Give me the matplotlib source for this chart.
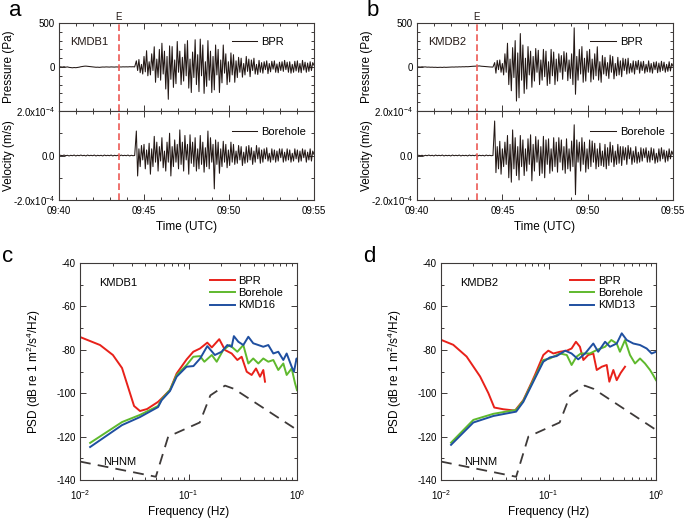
import numpy as np
import matplotlib
matplotlib.use("Agg")
import matplotlib.pyplot as plt
from matplotlib.ticker import MultipleLocator, LogLocator, NullFormatter

plt.rcParams['font.family'] = ['Liberation Sans', 'DejaVu Sans']
plt.rcParams['mathtext.fontset'] = 'custom'
plt.rcParams['mathtext.rm'] = 'Liberation Sans'
plt.rcParams['mathtext.it'] = 'Liberation Sans:italic'
plt.rcParams['mathtext.bf'] = 'Liberation Sans:bold'
plt.rcParams['axes.unicode_minus'] = False

# ---------------- waveform data (minutes after 09:40) ----------------
# quiet part before the arrival, then the shaking (peaks)
a_onset = 4.55
b_onset = 4.55

a_bpr_quiet = [0, 2, -1, 3, -2, 1, -4, -7, -9, -6, -8, -5, -2, 3, 6, 9, 10, 8, 6, 3, 1, -1, -3,
               -2, -4, -2, 0, -1, 1, 0, -1, 1, 0, -1, 1, 0, 1, 0, 2, 1, 2, 1, 3, 2, 3, 1]
a_bpr_active = [70, -40, 85, -65, 30, -80, 120, -55, 185, -100,
                60, -90, 150, -40, 230, -174, 90, -120, 200, -150,
                270, -80, 180, -250, 120, -367, 240, -140, 232, -232,
                80, -190, 290, -60, 180, -200, 110, -160, 260, -100,
                300, -240, 90, -290, 170, -120, 310, -200, 140, -280,
                317, -100, 250, -300, 60, -220, 300, -150, 180, -290,
                120, -260, 250, -90, 200, -290, 80, -180, 250, -70,
                150, -200, 60, -170, 160, -90, 140, -174, 70, -120,
                110, -60, 100, -116, 40, -90, 120, -50, 90, -110,
                80, -40, 100, -80, 30, -85, 75, -60, 50, -70,
                60, -30, 70, -75, 40, -55, 65, -25, 70, -60,
                35, -65, 55, -40, 60, -50, 75, -30, 55, -60,
                60, -70, 30, -60, 65, -45, 70, -60, 40, -65,
                75, -35, 55, -60, 45, -50, 60, -40, 50, 20]

# velocity in units of 1e-4 m/s
a_bh_quiet = [0, 0.01, -0.01, 0.02, -0.01, 0.01, -0.02, 0.01, -0.01, 0.02, -0.02, 0.01, -0.01,
              0.02, -0.01, 0.01, -0.02, 0.02, -0.01, 0.01, -0.01, 0.02, -0.02, 0.01, -0.01, 0.01,
              -0.02, 0.02, -0.01, 0.01, -0.01, 0.02, -0.02, 0.01, -0.01, 0.01, -0.02, 0.02, -0.01,
              0.01, -0.01, 0.02, -0.02, 0.01, -0.01, 0.0]
a_bh_active = [1.1, -0.92, 0.3, -0.5, 0.45, -0.2, 0.5, -0.6, 0.25, -0.4,
               0.55, -0.84, 0.3, -0.5, 0.86, -0.3, 0.6, -0.7, 0.4, -0.25,
               0.8, -0.55, 0.2, -0.7, 0.6, -0.3, 1.0, -0.92, 0.4, -0.5,
               0.7, -0.3, 0.5, -0.6, 1.15, -0.4, 0.6, -0.7, 0.9, -0.2,
               0.5, -0.84, 0.93, -0.35, 0.6, -0.5, 0.8, -0.7, 0.3, -0.6,
               0.9, -0.4, 0.6, -0.75, 0.35, -0.5, 1.1, -0.6, 0.8, -0.3,
               0.5, -1.5, 0.7, -0.4, 0.6, -0.8, 0.3, -0.5, 0.64, -0.3,
               0.5, -0.55, 0.25, -0.45, 0.6, -0.3, 0.5, -0.4, 0.2, -0.35,
               0.45, -0.2, 0.4, -0.45, 0.15, -0.35, 0.4, -0.3, 0.45, -0.2,
               0.35, -0.4, 0.2, -0.3, 0.45, -0.15, 0.35, -0.35, 0.25, -0.3,
               0.3, -0.15, 0.35, -0.25, 0.1, -0.3, 0.3, -0.2, 0.25, -0.3,
               0.2, -0.25, 0.3, -0.1, 0.3, -0.3, 0.15, -0.25, 0.3, -0.2,
               0.25, -0.3, 0.1, -0.25, 0.3, -0.15, 0.25, -0.3, 0.2, -0.25,
               0.3, -0.1, 0.25, -0.3, 0.15, -0.2, 0.3, -0.25, 0.2, 0.05]

b_bpr_quiet = [0, 1, -1, 2, 0, 1, -2, -1, -3, -2, -4, -3, -5, -4, -3, -5, -2, -4, -3, -1, -2, 0, -1,
               1, 0, 2, 1, 3, 2, 4, 3, 5, 6, 8, 9, 11, 10, 12, 9, 8, 6, 4, 2, 1, 0, -1]
b_bpr_active = [50, -70, 75, -30, 80, -60, 40, -90, 150, -60,
                270, -200, 90, -270, 220, -120, 300, -387, 160, -350,
                380, -150, 250, -300, 100, -250, 232, -90, 180, -230,
                120, -160, 210, -60, 190, -200, 80, -150, 200, -110,
                180, -210, 60, -190, 200, -100, 170, -200, 90, -160,
                150, -60, 130, -140, 175, -50, 160, -155, 80, -130,
                150, -200, 445, -310, 120, -150, 200, -80, 232, -174,
                100, -160, 180, -60, 200, -170, 90, -140, 150, -100,
                230, -150, 60, -174, 130, -80, 110, -100, 50, -130,
                135, -60, 120, -135, 40, -100, 110, -90, 70, -110,
                100, -40, 90, -80, 100, -70, 40, -60, 70, -80,
                65, -30, 75, -70, 60, -40, 65, -70, 30, -55,
                70, -60, 40, -70, 55, -30, 60, -65, 45, -55,
                65, -40, 55, -60, 30, -50, 60, -45, 40, 10]

b_bh_quiet = [0, 0.01, -0.01, 0.01, -0.02, 0.01, -0.01, 0.02, -0.01, 0.01, -0.02, 0.02, -0.01,
              0.01, -0.01, 0.02, -0.02, 0.01, -0.01, 0.01, -0.02, 0.02, -0.01, 0.01, -0.01, 0.02,
              -0.02, 0.01, -0.01, 0.01, -0.02, 0.02, -0.01, 0.01, -0.01, 0.02, -0.02, 0.01, -0.01,
              0.01, -0.02, 0.02, -0.01, 0.01, -0.01, 0.0]
b_bh_active = [1.55, -0.77, 0.4, -0.6, 0.64, -0.84, 0.3, -0.5, 0.6, -0.4,
               0.9, -1.0, 0.5, -1.2, 1.15, -0.6, 0.8, -0.9, 0.4, -1.1,
               0.9, -0.5, 0.7, -0.9, 0.3, -0.7, 0.75, -0.4, 0.93, -1.14,
               0.5, -0.7, 0.85, -0.3, 0.7, -0.9, 0.4, -0.8, 0.86, -1.0,
               0.7, -0.4, 0.75, -0.8, 0.3, -0.7, 0.8, -0.5, 0.6, -0.75,
               0.8, -0.3, 0.7, -0.65, 0.4, -0.8, 0.75, -0.6, 0.3, -0.7,
               0.65, -0.5, 1.38, -1.76, 0.7, -0.3, 0.6, -0.7, 0.8, -0.4,
               0.6, -0.75, 0.3, -0.6, 0.7, -0.5, 0.65, -0.3, 0.55, -0.6,
               0.3, -0.5, 0.55, -0.45, 0.2, -0.5, 0.5, -0.6, 0.35, -0.45,
               0.6, -0.3, 0.45, -0.5, 0.2, -0.4, 0.5, -0.35, 0.4, -0.45,
               0.4, -0.2, 0.35, -0.4, 0.45, -0.15, 0.35, -0.4, 0.2, -0.3,
               0.4, -0.35, 0.15, -0.3, 0.35, -0.25, 0.3, -0.1, 0.35, -0.3,
               0.2, -0.3, 0.35, -0.2, 0.3, -0.35, 0.1, -0.3, 0.3, -0.25,
               0.35, -0.15, 0.25, -0.3, 0.2, -0.25, 0.3, -0.15, 0.2, 0.05]

event_time = 3.5  # E, minutes after 09:40
time_ticks = [0, 5, 10, 15]
time_labels = ["09:40", "09:45", "09:50", "09:55"]

# ---------------- PSD data ----------------
c_bpr_f = [0.0100, 0.0153, 0.0201, 0.0244, 0.0277, 0.0315, 0.0357, 0.0415, 0.0524, 0.0566, 0.0675,
           0.0778, 0.0962, 0.1107, 0.1277, 0.149, 0.164, 0.192, 0.217, 0.250, 0.282, 0.309, 0.344,
           0.382, 0.419, 0.456, 0.489, 0.507]
c_bpr_db = [-74.1, -77.8, -82.4, -88.4, -97.1, -105.9, -108.2, -107.3, -104.0, -102.4, -98.5,
            -90.9, -84.4, -80.9, -79.4, -76.7, -78.9, -75.1, -80.1, -81.7, -84.7, -83.2, -90.1,
            -91.6, -88.6, -92.4, -89.3, -94.7]
c_bh_f = [0.0124, 0.0244, 0.0357, 0.0524, 0.0566, 0.0675, 0.0778, 0.0962, 0.1107, 0.1277, 0.140,
          0.164, 0.182, 0.209, 0.240, 0.282, 0.320, 0.356, 0.395, 0.440, 0.489, 0.544, 0.605, 0.672,
          0.748, 0.803, 0.893, 0.96, 1.0]
c_bh_db = [-122.9, -113.3, -110.0, -105.9, -102.8, -98.5, -91.6, -87.0, -83.2, -82.9, -85.5,
           -82.4, -85.5, -80.1, -77.8, -80.9, -77.8, -86.3, -84.0, -86.3, -84.0, -85.5, -84.7, -89.3,
           -86.3, -91.6, -88.6, -95.5, -98.6]
c_st_f = [0.0124, 0.0244, 0.0357, 0.0524, 0.0566, 0.0675, 0.0778, 0.096, 0.111, 0.128, 0.149, 0.175,
          0.202, 0.228, 0.250, 0.262, 0.288, 0.320, 0.356, 0.395, 0.440, 0.489, 0.544, 0.605, 0.672,
          0.748, 0.803, 0.893, 0.938, 0.99, 1.0]
c_st_db = [-124.8, -114.7, -111.0, -106.4, -103.2, -99.0, -92.4, -87.8, -87.5, -84.0, -78.3, -82.4,
           -80.9, -77.8, -78.6, -73.7, -76.3, -77.8, -74.0, -77.0, -77.8, -78.6, -77.8, -81.7, -80.9,
           -84.7, -81.7, -87.8, -90.1, -84.0, -84.5]

d_bpr_f = [0.0100, 0.0130, 0.0173, 0.0231, 0.0276, 0.0313, 0.038, 0.0488, 0.0583, 0.0697, 0.0748,
           0.0895, 0.0996, 0.111, 0.128, 0.148, 0.164, 0.180, 0.196, 0.211, 0.234, 0.261, 0.281,
           0.313, 0.348, 0.368, 0.401, 0.431, 0.47, 0.515]
d_bpr_db = [-75.4, -77.7, -83.1, -92.3, -100.0, -106.6, -107.4, -108.0, -103.2, -95.0, -91.6,
            -82.4, -80.4, -81.7, -80.9, -80.4, -79.4, -76.3, -78.6, -84.7, -82.4, -81.7, -89.3,
            -87.8, -87.0, -94.7, -89.3, -94.0, -90.6, -87.8]
d_bh_f = [0.0124, 0.020, 0.0307, 0.050, 0.0583, 0.0748, 0.0895, 0.103, 0.128, 0.148, 0.164, 0.182,
          0.200, 0.243, 0.281, 0.336, 0.384, 0.431, 0.462, 0.515, 0.573, 0.638, 0.71, 0.79, 0.88,
          0.94, 1.0]
d_bh_db = [-122.8, -112.3, -109.5, -107.7, -103.5, -92.5, -84.7, -84.0, -81.7, -82.4, -87.0, -83.2,
           -81.7, -81.7, -80.1, -78.6, -75.5, -77.1, -80.9, -75.5, -82.4, -86.3, -84.0, -86.3, -89.3,
           -91.6, -94.0]
d_st_f = [0.0124, 0.020, 0.0307, 0.050, 0.0583, 0.0748, 0.0895, 0.103, 0.119, 0.143, 0.164, 0.189,
          0.219, 0.261, 0.290, 0.336, 0.373, 0.431, 0.48, 0.534, 0.615, 0.71, 0.819, 0.911, 1.0]
d_st_db = [-123.8, -113.5, -110.5, -108.5, -104.0, -93.2, -85.5, -83.5, -82.9, -80.4, -81.7, -84.4,
           -81.7, -77.1, -80.9, -76.3, -78.6, -77.1, -72.4, -75.5, -77.1, -77.8, -79.4, -81.7, -80.9]

nhnm_f = [0.01, 0.05, 0.065, 0.127, 0.159, 0.217, 0.263, 1.0]
nhnm_db = [-131.5, -138.5, -120.0, -113.5, -101.0, -96.5, -98.0, -116.9]

# ---------------- styling ----------------
INK = '#231815'
SPINE = '#3e3a39'
RED = '#e8211a'
GREEN = '#5fb92d'
BLUE = '#1f4fa0'
EVENT = '#ec5a55'
W, H = 685, 519


def box(left, top, right, bottom):
    return [left / W, 1 - bottom / H, (right - left) / W, (bottom - top) / H]


def style(ax):
    for s in ax.spines.values():
        s.set_color(SPINE)
        s.set_linewidth(0.8)
    ax.tick_params(which='both', direction='in', top=True, right=True,
                   color=SPINE, labelsize=7, width=0.7, pad=3)
    ax.tick_params(which='major', length=4)
    ax.tick_params(which='minor', length=2.5)


def trace_time(quiet, active, onset):
    tq = np.linspace(0, onset, len(quiet), endpoint=False)
    ta = np.linspace(onset, 15, len(active))
    return np.concatenate([tq, ta]), quiet + active


def wave_panel(fig, left, right, name, bpr, bh, onset, letter):
    ax_p = fig.add_axes(box(left, 23, right, 111))
    ax_v = fig.add_axes(box(left, 111, right, 200), sharex=ax_p)

    t_p, y_p = trace_time(bpr[0], bpr[1], onset)
    t_v, y_v = trace_time(bh[0], bh[1], onset)
    ax_p.plot(t_p, y_p, color=INK, lw=0.75, label='BPR')
    ax_v.plot(t_v, y_v, color=INK, lw=0.75, label='Borehole')

    for ax in (ax_p, ax_v):
        style(ax)
        ax.axvline(event_time, color=EVENT, lw=1.2, ls=(0, (4, 2)))
        ax.set_xlim(0, 15)
        ax.xaxis.set_minor_locator(MultipleLocator(1))
        ax.set_xticks(time_ticks)

    ax_p.set_ylim(-500, 500)
    ax_p.set_yticks([-500, 0, 500])
    ax_p.set_yticklabels(['', '0', '500'])
    ax_p.yaxis.set_minor_locator(MultipleLocator(100))
    ax_p.tick_params(labelbottom=False)
    ax_p.set_ylabel('Pressure (Pa)', fontsize=8.5)
    ax_p.yaxis.set_label_coords(-0.172, 0.5)

    ax_v.set_ylim(-2, 2)
    ax_v.set_yticks([-2, 0, 2])
    ax_v.set_yticklabels(['-2.0x10$^{-4}$', '0.0', '2.0x10$^{-4}$'])
    ax_v.yaxis.set_minor_locator(MultipleLocator(1))
    ax_v.set_xticklabels(time_labels)
    ax_v.tick_params(axis='x', pad=4)
    ax_v.set_ylabel('Velocity (m/s)', fontsize=8.5)
    ax_v.yaxis.set_label_coords(-0.172, 0.5)
    ax_v.set_xlabel('Time (UTC)', fontsize=8.5, labelpad=4)

    ax_p.text(event_time, 515, 'E', ha='center', va='bottom', fontsize=7, color=INK)
    ax_p.text(0.045, 0.78, name, transform=ax_p.transAxes, fontsize=8,
              va='center', ha='left', color=INK)

    for ax, y in ((ax_p, 0.785), (ax_v, 0.765)):
        ax.legend(loc='center left', bbox_to_anchor=(0.677, y), frameon=False,
                  fontsize=8, handlelength=2.3, handletextpad=0.35,
                  borderpad=0, borderaxespad=0)

    fig.text((left - 50) / W, 1 - 11 / H, letter, fontsize=16, va='center', ha='left')


def psd_panel(fig, left, right, name, bpr, bh, st, st_name, letter):
    ax = fig.add_axes(box(left, 263, right, 480))
    ax.plot(bpr[0], bpr[1], color=RED, lw=1.4, label='BPR')
    ax.plot(bh[0], bh[1], color=GREEN, lw=1.4, label='Borehole')
    ax.plot(st[0], st[1], color=BLUE, lw=1.4, label=st_name)
    ax.plot(nhnm_f, nhnm_db, color='#3e3a39', lw=1.3, ls=(0, (6, 4)))
    style(ax)
    ax.set_xscale('log')
    ax.set_xlim(0.01, 1)
    ax.set_ylim(-140, -40)
    ax.yaxis.set_major_locator(MultipleLocator(20))
    ax.yaxis.set_minor_locator(MultipleLocator(10))
    ax.xaxis.set_major_locator(LogLocator(base=10, numticks=5))
    ax.xaxis.set_minor_locator(LogLocator(base=10, subs=np.arange(2, 10), numticks=10))
    ax.xaxis.set_minor_formatter(NullFormatter())
    ax.tick_params(axis='x', pad=6)
    ax.set_xlabel('Frequency (Hz)', fontsize=8.5, labelpad=3)
    ax.set_ylabel('PSD (dB re 1 m$^2$/s$^4$/Hz)', fontsize=8.5)
    ax.yaxis.set_label_coords(-0.172, 0.5)
    ax.text(0.088, 0.908, name, transform=ax.transAxes, fontsize=8, va='center', ha='left')
    ax.text(0.0163, -131.7, 'NHNM', fontsize=8, va='center', ha='left')
    ax.legend(loc='upper left', bbox_to_anchor=(0.6, 0.94), frameon=False,
              fontsize=8, handlelength=2.2, handletextpad=0.35, labelspacing=0.2,
              borderpad=0, borderaxespad=0)
    fig.text((left - 78) / W, 1 - 256 / H, letter, fontsize=16, va='center', ha='left')


fig = plt.figure(figsize=(6.85, 5.19), dpi=100)

wave_panel(fig, 59, 314, 'KMDB1', (a_bpr_quiet, a_bpr_active), (a_bh_quiet, a_bh_active), a_onset, 'a')
wave_panel(fig, 417, 673, 'KMDB2', (b_bpr_quiet, b_bpr_active), (b_bh_quiet, b_bh_active), b_onset, 'b')

psd_panel(fig, 80, 297, 'KMDB1', (c_bpr_f, c_bpr_db), (c_bh_f, c_bh_db), (c_st_f, c_st_db), 'KMD16', 'c')
psd_panel(fig, 441, 656, 'KMDB2', (d_bpr_f, d_bpr_db), (d_bh_f, d_bh_db), (d_st_f, d_st_db), 'KMD13', 'd')

fig.savefig('out.png', dpi=100)
